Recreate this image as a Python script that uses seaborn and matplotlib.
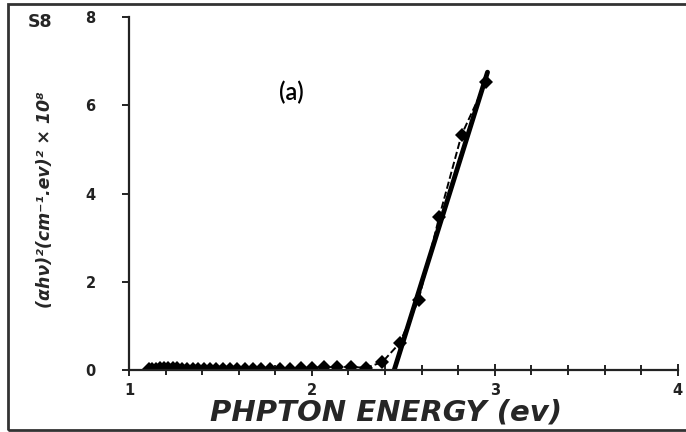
import matplotlib
matplotlib.use("Agg")
import matplotlib.pyplot as plt
import seaborn as sns
import pandas as pd
from matplotlib.patches import Rectangle
from matplotlib.ticker import MultipleLocator

# ---- dados ----
energia = [1.107, 1.127, 1.148, 1.170, 1.192, 1.216, 1.240, 1.265, 1.292, 1.319,
           1.348, 1.378, 1.409, 1.442, 1.476, 1.512, 1.550, 1.590, 1.632, 1.676,
           1.722, 1.771, 1.824, 1.879, 1.938, 2.000, 2.067, 2.138, 2.214, 2.296,
           2.385, 2.480, 2.583, 2.696, 2.818, 2.952]
alfa_hv2 = [0.03, 0.03, 0.03, 0.04, 0.04, 0.04, 0.04, 0.04, 0.03, 0.03,
            0.03, 0.03, 0.03, 0.02, 0.02, 0.02, 0.02, 0.02, 0.02, 0.02,
            0.02, 0.02, 0.03, 0.03, 0.04, 0.05, 0.06, 0.07, 0.07, 0.05,
            0.18, 0.61, 1.59, 3.47, 5.33, 6.53]

# reta de ajuste (extrapolacao ate o eixo)
ajuste_x = [2.45, 2.96]
ajuste_y = [0.0, 6.75]

x_ticks = [1, 2, 3, 4]
y_ticks = [0, 2, 4, 6, 8]

df = pd.DataFrame({"E": energia, "Y": alfa_hv2})
df_fit = pd.DataFrame({"E": ajuste_x, "Y": ajuste_y})

sns.set_style("ticks")
plt.rcParams["font.family"] = ["DejaVu Sans"]

fig = plt.figure(figsize=(6.86, 4.32), dpi=100)
ax = fig.add_axes([0.188, 0.1435, 0.8, 0.817])

sns.lineplot(data=df, x="E", y="Y", ax=ax, color="black", lw=1.4,
             linestyle="--", marker="D", markersize=7, markeredgewidth=0)
sns.lineplot(data=df_fit, x="E", y="Y", ax=ax, color="black", lw=3.5)

ax.set_xlim(1, 4)
ax.set_ylim(0, 8)
ax.set_xticks(x_ticks)
ax.set_yticks(y_ticks)
ax.xaxis.set_minor_locator(MultipleLocator(0.2))
ax.set_xlabel("")
ax.set_ylabel("")
sns.despine(ax=ax)
for s in ["left", "bottom"]:
    ax.spines[s].set_linewidth(1.6)
    ax.spines[s].set_color("#222222")

ax.tick_params(axis="x", which="major", direction="inout", length=8, width=1.4,
               pad=5, labelsize=10.5, colors="#222222")
ax.tick_params(axis="x", which="minor", direction="inout", length=7, width=1.4,
               colors="#222222")
ax.tick_params(axis="y", which="major", direction="out", length=5, width=1.4,
               pad=19, labelsize=10.5, colors="#222222")
for lab in ax.get_xticklabels() + ax.get_yticklabels():
    lab.set_fontweight("bold")

ax.text(1.89, 6.3, "(a)", fontsize=17, family=["Lato", "DejaVu Sans"],
        fontweight="semibold", ha="center", va="center", color="black")

fig.text(0.058, 0.949, "S8", fontsize=12.5, fontweight="bold", ha="center", va="center")
fig.text(0.066, 0.537, "(αhν)²(cm⁻¹.ev)² × 10⁸", rotation=90, fontsize=12.5,
         fontweight="bold", fontstyle="italic", ha="center", va="center")
fig.text(0.563, 0.046, "PHPTON ENERGY (ev)", fontsize=21, fontweight="bold",
         fontstyle="italic", ha="center", va="center")

# moldura da figura
fig.patches.append(Rectangle((0.012, 0.005), 1.2, 0.985, transform=fig.transFigure,
                             fill=False, edgecolor="#333333", lw=2))

fig.savefig("out.png", dpi=100)
